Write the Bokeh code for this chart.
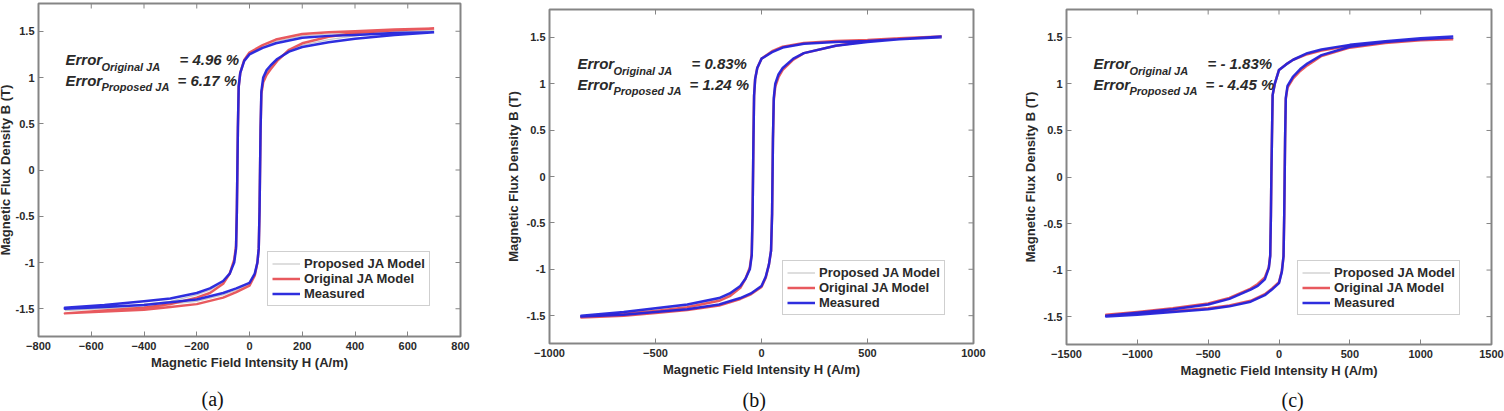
import math
from bokeh.plotting import figure
from bokeh.models import Label, Legend, LegendItem, FixedTicker, Range1d, Title
from bokeh.layouts import row
from bokeh.embed import file_html
from bokeh.resources import INLINE

# ---------------- data ----------------
y_ticks = [-1.5, -1, -0.5, 0, 0.5, 1, 1.5]
y_tick_labels = ["-1.5", "-1", "-0.5", "0", "0.5", "1", "1.5"]
xa_ticks = [-800, -600, -400, -200, 0, 200, 400, 600, 800]
xb_ticks = [-1000, -500, 0, 500, 1000]
xc_ticks = [-1500, -1000, -500, 0, 500, 1000, 1500]
legend_labels = ["Proposed JA Model", "Original JA Model", "Measured"]

# panel (a)
Ha_desc = [700, 550, 400, 300, 200, 100, 50, 0, -20, -35, -41, -44, -46, -48, -51, -58, -75, -100, -150, -200, -300, -400, -550, -700]
Ba_meas_desc = [1.49, 1.48, 1.46, 1.45, 1.43, 1.37, 1.32, 1.25, 1.18, 1.05, 0.90, 0.45, 0.00, -0.45, -0.85, -1.00, -1.12, -1.20, -1.28, -1.33, -1.39, -1.42, -1.46, -1.49]
Ba_orig_desc = [1.53, 1.52, 1.50, 1.49, 1.47, 1.41, 1.35, 1.27, 1.19, 1.05, 0.90, 0.45, 0.00, -0.45, -0.82, -0.97, -1.12, -1.23, -1.33, -1.38, -1.45, -1.49, -1.52, -1.55]
Ba_prop_desc = [1.51, 1.50, 1.48, 1.47, 1.45, 1.39, 1.33, 1.26, 1.18, 1.05, 0.90, 0.45, 0.00, -0.45, -0.84, -0.99, -1.12, -1.21, -1.30, -1.35, -1.42, -1.45, -1.49, -1.52]
Ha_asc = [-700, -550, -400, -300, -200, -100, -50, 0, 20, 30, 35, 38, 40, 42, 45, 52, 65, 80, 105, 150, 200, 300, 400, 550, 700]
Ba_meas_asc = [-1.50, -1.48, -1.46, -1.43, -1.40, -1.33, -1.28, -1.22, -1.12, -1.00, -0.85, -0.45, 0.00, 0.45, 0.85, 1.00, 1.08, 1.13, 1.20, 1.28, 1.33, 1.38, 1.42, 1.46, 1.49]
Ba_orig_asc = [-1.55, -1.53, -1.51, -1.48, -1.45, -1.38, -1.32, -1.25, -1.14, -1.00, -0.85, -0.45, 0.00, 0.45, 0.82, 0.95, 1.03, 1.09, 1.18, 1.30, 1.37, 1.44, 1.48, 1.51, 1.53]
Ba_prop_asc = [-1.52, -1.50, -1.48, -1.45, -1.42, -1.35, -1.30, -1.23, -1.13, -1.00, -0.85, -0.45, 0.00, 0.45, 0.84, 0.98, 1.06, 1.11, 1.19, 1.29, 1.35, 1.41, 1.45, 1.49, 1.51]
errors_a = [("Original JA", "= 4.96 %"), ("Proposed JA", "= 6.17 %")]

# panel (b)
Hb_desc = [850, 650, 500, 350, 200, 100, 50, 0, -20, -30, -35, -38, -40, -42, -46, -55, -75, -100, -150, -200, -350, -500, -650, -850]
Bb_meas_desc = [1.50, 1.48, 1.46, 1.45, 1.43, 1.39, 1.34, 1.27, 1.17, 1.05, 0.87, 0.40, 0.00, -0.40, -0.85, -1.00, -1.10, -1.18, -1.26, -1.31, -1.38, -1.42, -1.46, -1.50]
Bb_orig_desc = [1.51, 1.49, 1.47, 1.46, 1.44, 1.40, 1.35, 1.27, 1.17, 1.05, 0.87, 0.40, 0.00, -0.40, -0.83, -0.98, -1.10, -1.20, -1.29, -1.34, -1.41, -1.45, -1.48, -1.52]
Bb_prop_desc = [1.50, 1.48, 1.46, 1.45, 1.43, 1.39, 1.34, 1.27, 1.17, 1.05, 0.87, 0.40, 0.00, -0.40, -0.84, -0.99, -1.10, -1.19, -1.27, -1.32, -1.39, -1.43, -1.47, -1.51]
Hb_asc = [-850, -650, -500, -350, -200, -100, -50, 0, 20, 35, 45, 50, 52, 54, 58, 65, 80, 100, 150, 200, 350, 500, 650, 850]
Bb_meas_asc = [-1.51, -1.49, -1.46, -1.43, -1.38, -1.31, -1.26, -1.18, -1.08, -0.95, -0.80, -0.40, 0.00, 0.40, 0.85, 1.00, 1.10, 1.17, 1.27, 1.33, 1.41, 1.45, 1.48, 1.51]
Bb_orig_asc = [-1.52, -1.50, -1.47, -1.44, -1.39, -1.32, -1.27, -1.19, -1.09, -0.95, -0.80, -0.40, 0.00, 0.40, 0.82, 0.97, 1.07, 1.15, 1.26, 1.33, 1.41, 1.46, 1.49, 1.51]
Bb_prop_asc = [-1.51, -1.49, -1.46, -1.43, -1.38, -1.31, -1.26, -1.18, -1.08, -0.95, -0.80, -0.40, 0.00, 0.40, 0.84, 0.99, 1.09, 1.16, 1.27, 1.33, 1.41, 1.45, 1.48, 1.51]
errors_b = [("Original JA", "= 0.83%"), ("Proposed JA", "= 1.24 %")]

# panel (c)
Hc_desc = [1230, 1000, 750, 500, 300, 200, 100, 50, 0, -30, -45, -50, -54, -57, -62, -72, -100, -150, -200, -350, -500, -750, -1000, -1220]
Bc_meas_desc = [1.51, 1.49, 1.46, 1.42, 1.37, 1.33, 1.26, 1.21, 1.15, 1.00, 0.88, 0.40, 0.00, -0.40, -0.85, -0.98, -1.10, -1.17, -1.21, -1.31, -1.37, -1.42, -1.46, -1.49]
Bc_orig_desc = [1.48, 1.47, 1.45, 1.41, 1.36, 1.32, 1.26, 1.21, 1.15, 1.00, 0.88, 0.40, 0.00, -0.40, -0.84, -0.97, -1.08, -1.15, -1.20, -1.30, -1.36, -1.41, -1.45, -1.48]
Bc_prop_desc = [1.50, 1.48, 1.45, 1.41, 1.36, 1.32, 1.26, 1.21, 1.15, 1.00, 0.88, 0.40, 0.00, -0.40, -0.85, -0.98, -1.09, -1.16, -1.20, -1.30, -1.36, -1.42, -1.46, -1.49]
Hc_asc = [-1220, -1000, -750, -500, -350, -200, -100, -50, 0, 20, 32, 37, 40, 43, 48, 60, 100, 150, 200, 300, 500, 750, 1000, 1230]
Bc_meas_asc = [-1.50, -1.48, -1.45, -1.42, -1.39, -1.34, -1.27, -1.21, -1.14, -1.02, -0.85, -0.40, 0.00, 0.40, 0.85, 0.98, 1.08, 1.16, 1.22, 1.31, 1.40, 1.45, 1.48, 1.50]
Bc_orig_asc = [-1.48, -1.47, -1.44, -1.41, -1.38, -1.33, -1.26, -1.20, -1.13, -1.01, -0.85, -0.40, 0.00, 0.40, 0.84, 0.96, 1.06, 1.14, 1.20, 1.30, 1.39, 1.44, 1.47, 1.48]
Bc_prop_asc = [-1.49, -1.47, -1.45, -1.42, -1.39, -1.34, -1.27, -1.21, -1.14, -1.02, -0.85, -0.40, 0.00, 0.40, 0.85, 0.97, 1.07, 1.15, 1.21, 1.31, 1.40, 1.44, 1.47, 1.49]
errors_c = [("Original JA", "= - 1.83%"), ("Proposed JA", "= - 4.45 %")]

# ---------------- styling ----------------
FONT = "Liberation Sans"
SERIF = "Liberation Serif"
BLUE = "#2323dc"
RED = "#e5474c"
GRAY = "#c9c9c9"
TXT = "#2a2a2a"
FRAME = "#858585"
XLABEL = "Magnetic Field Intensity H (A/m)"
YLABEL = "Magnetic Flux Density B (T)"
YMAX = 1.8


def style_axis(ax, ticks, labels=None):
    ax.ticker = FixedTicker(ticks=ticks)
    if labels is not None:
        ax.major_label_overrides = {t: l for t, l in zip(ticks, labels)}
    ax.axis_line_color = None
    ax.major_tick_in = 5
    ax.major_tick_out = 0
    ax.major_tick_line_color = FRAME
    ax.major_tick_line_width = 1
    ax.minor_tick_line_color = None
    ax.major_label_text_font = FONT
    ax.major_label_text_font_style = "bold"
    ax.major_label_text_color = TXT
    ax.major_label_text_font_size = "11px"
    ax.axis_label_text_font = FONT
    ax.axis_label_text_font_style = "bold"
    ax.axis_label_text_font_size = "13px"
    ax.axis_label_text_color = TXT


def make_panel(frame_w, frame_h, left, right, top, bottom, xr, xticks,
               H_desc, H_asc, meas, orig, prop, errors, caption, cap_offset, cap_standoff,
               leg_xy, err_x, err_y, ylabel_standoff, shift_x=0, shift_y=0):
    extra = {}
    if shift_x or shift_y:
        extra["styles"] = {"margin-left": f"-{shift_x}px", "margin-top": f"-{shift_y}px"}
    p = figure(frame_width=frame_w, frame_height=frame_h, title=None,
               x_range=Range1d(-xr, xr), y_range=Range1d(-YMAX, YMAX),
               output_backend="svg", toolbar_location=None,
               min_border_left=left, min_border_right=right,
               min_border_top=top, min_border_bottom=bottom, **extra)
    p.grid.visible = False
    p.background_fill_color = "white"
    p.border_fill_color = "white"
    p.outline_line_color = FRAME
    p.outline_line_width = 2

    style_axis(p.xaxis[0], xticks)
    style_axis(p.yaxis[0], y_ticks, y_tick_labels)
    p.xaxis[0].major_label_standoff = 5
    p.yaxis[0].major_label_standoff = 4
    p.xaxis[0].axis_label = XLABEL
    p.xaxis[0].axis_label_standoff = 2
    p.yaxis[0].axis_label = YLABEL
    p.yaxis[0].axis_label_standoff = ylabel_standoff

    # caption "(a)" etc. below the axis title
    p.add_layout(Title(text=caption, align="left", offset=cap_offset, standoff=cap_standoff,
                       text_font=SERIF, text_font_size="20px", text_font_style="normal",
                       text_color="#111111"), "below")

    # mirrored inward ticks on the top and right edges of the box
    p.ray(x=xticks, y=[YMAX] * len(xticks), length=5, length_units="screen",
          angle=-math.pi / 2, line_color=FRAME, line_width=1)
    p.ray(x=[xr] * len(y_ticks), y=y_ticks, length=5, length_units="screen",
          angle=math.pi, line_color=FRAME, line_width=1)

    r_prop = p.line(H_desc + H_asc, prop[0] + prop[1], line_color=GRAY, line_width=1.2)
    r_orig = p.line(H_desc + H_asc, orig[0] + orig[1], line_color=RED, line_width=2.5,
                    line_alpha=0.9, line_join="round")
    r_meas = p.line(H_desc + H_asc, meas[0] + meas[1], line_color=BLUE, line_width=2.5,
                    line_alpha=0.95, line_join="round")

    legend = Legend(items=[LegendItem(label=legend_labels[0], renderers=[r_prop]),
                           LegendItem(label=legend_labels[1], renderers=[r_orig]),
                           LegendItem(label=legend_labels[2], renderers=[r_meas])],
                    location=leg_xy, padding=4, spacing=0, margin=0,
                    glyph_width=28, glyph_height=15, label_height=15, label_standoff=4,
                    label_text_font=FONT, label_text_font_style="bold",
                    label_text_font_size="13px", label_text_color=TXT,
                    border_line_color="#a0a0a0", border_line_width=1.5,
                    background_fill_color="white", background_fill_alpha=1)
    p.add_layout(legend, "center")

    # error annotations: pixel positions inside the frame turned into data units
    def dx(px):
        return -xr + px * 2 * xr / frame_w

    def dy(py):
        return -YMAX + py * 2 * YMAX / frame_h

    common = dict(text_font=FONT, text_font_style="bold italic", text_color=TXT,
                  text_baseline="alphabetic")
    for i, (sub, val) in enumerate(errors):
        yb = err_y - i * 20.5
        p.add_layout(Label(x=dx(err_x), y=dy(yb), text="Error", text_font_size="15px", **common))
        p.add_layout(Label(x=dx(err_x + 36), y=dy(yb - 7), text=sub, text_font_size="11px", **common))
        p.add_layout(Label(x=dx(err_x + 114 - 2 * i), y=dy(yb), text=val, text_font_size="15px", **common))
    return p


# panel (a): its y title is partly cut by the page's left edge, as in the reference
pa = make_panel(422, 333, 44, 40, 4, 60, 800, xa_ticks, Ha_desc, Ha_asc,
                (Ba_meas_desc, Ba_meas_asc), (Ba_orig_desc, Ba_orig_asc), (Ba_prop_desc, Ba_prop_asc),
                errors_a, "(a)", 163, 26, (229, 30), 27, 277, 0, shift_x=6, shift_y=6)
pb = make_panel(424, 334, 49, 27, 9, 60, 1000, xb_ticks, Hb_desc, Hb_asc,
                (Bb_meas_desc, Bb_meas_asc), (Bb_orig_desc, Bb_orig_asc), (Bb_prop_desc, Bb_prop_asc),
                errors_b, "(b)", 193, 14, (233, 28), 28, 280, 3)
pc = make_panel(425, 335, 66, 13, 9, 60, 1500, xc_ticks, Hc_desc, Hc_asc,
                (Bc_meas_desc, Bc_meas_asc), (Bc_orig_desc, Bc_orig_asc), (Bc_prop_desc, Bc_prop_asc),
                errors_c, "(c)", 215, 13, (231, 29), 27, 281, 3)

layout = row(pa, pb, pc, spacing=0)
open("out.html", "w").write(file_html(layout, INLINE))
